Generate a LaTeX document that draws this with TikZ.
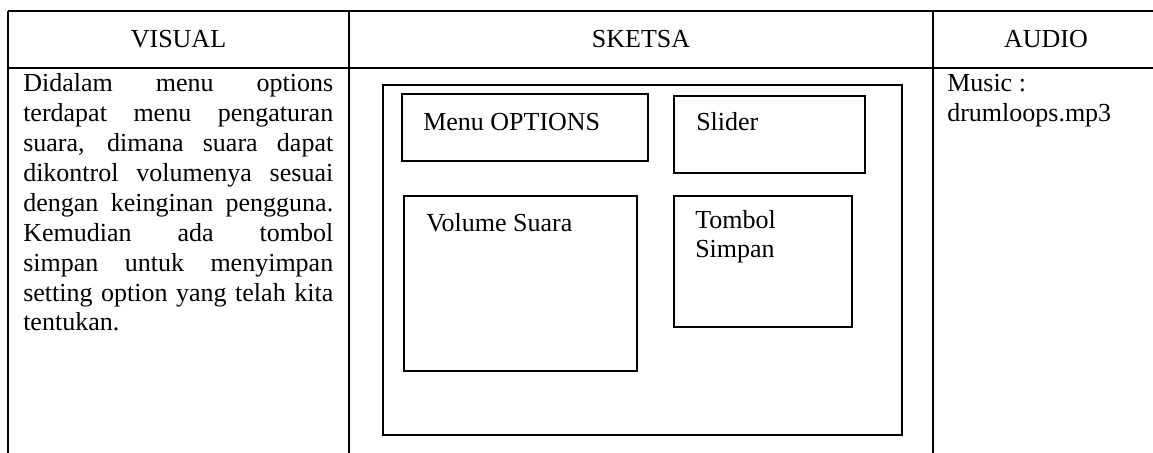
\documentclass[tikz,border=0pt]{standalone}
\usepackage{fontspec}
\setmainfont{Liberation Serif}

% column width of the justified description text
\newlength\desccolw
\setlength\desccolw{232.5pt}
\newcommand\jline[1]{\makebox[\desccolw][s]{#1}}

\tikzset{
  px/.style={x=0.75pt,y=-0.75pt},
  tablerule/.style={line width=1.7pt},
  sketchbox/.style={line width=1.0pt},
  bodytext/.style={inner sep=0pt, anchor=base west,
    font=\fontsize{19.5}{22.4}\selectfont},
  headtext/.style={inner sep=0pt, anchor=base,
    font=\fontsize{19.5}{22.4}\selectfont},
}

\begin{document}
\begin{tikzpicture}[px]
\useasboundingbox (0,0) rectangle (1153,453);

% table rules
\draw[tablerule] (1153,11) -- (8,11);
\draw[tablerule] (1153,68) -- (8,68);
\draw[tablerule] (8,11) -- (8,453);
\draw[tablerule] (349,11) -- (349,453);
\draw[tablerule] (933,11) -- (933,453);

% column headings
\node[headtext] (hvisual) at (178.5,48) {VISUAL};
\node[headtext] (hsketsa) at (641,48) {SKETSA};
\node[headtext] (haudio)  at (1046,48) {AUDIO};

% description
\node[bodytext] (desc) at (23,92) {\parbox[t]{\desccolw}{%
  \jline{Didalam menu options}\\
  \jline{terdapat menu pengaturan}\\
  \jline{suara, dimana suara dapat}\\
  \jline{dikontrol volumenya sesuai}\\
  \jline{dengan keinginan pengguna.}\\
  \jline{Kemudian ada tombol}\\
  \jline{simpan untuk menyimpan}\\
  \jline{setting option yang telah kita}\\
  tentukan.}};

% screen sketch
\draw[sketchbox] (383,85) rectangle (902,435);
\draw[sketchbox] (402,94) rectangle (648,161);
\draw[sketchbox] (674,96) rectangle (865,173);
\draw[sketchbox] (404,196) rectangle (637,371);
\draw[sketchbox] (674,196) rectangle (852,327);

\node[bodytext] (menu)   at (423,131) {Menu OPTIONS};
\node[bodytext] (slider) at (696,131) {Slider};
\node[bodytext] (volume) at (426,231) {Volume Suara};
\node[bodytext] (tombol) at (695,228) {\parbox[t]{150pt}{Tombol\\Simpan}};

% audio
\node[bodytext] (music) at (947,92) {\parbox[t]{150pt}{Music :\\drumloops.mp3}};
\end{tikzpicture}
\end{document}
